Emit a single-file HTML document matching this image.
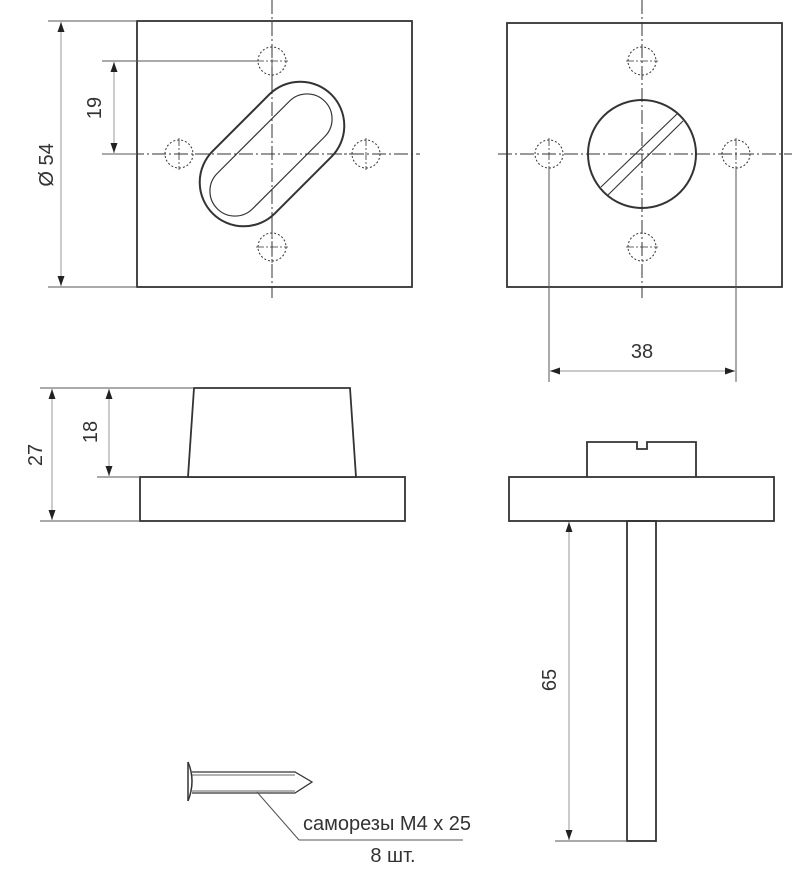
<!DOCTYPE html>
<html><head><meta charset="utf-8"><style>
html,body{margin:0;padding:0;background:#fff;}
svg{display:block;}
text{font-family:"Liberation Sans","DejaVu Sans",sans-serif;font-size:20px;fill:#333;}
</style></head><body>
<svg width="801" height="872" viewBox="0 0 801 872" xmlns="http://www.w3.org/2000/svg">
<defs>
<marker id="a" viewBox="0 0 10 10" refX="10" refY="5" markerWidth="10" markerHeight="10" markerUnits="userSpaceOnUse" orient="auto-start-reverse"><path d="M0,1.5 L10,5 L0,8.5 Z" fill="#222"/></marker>
</defs>
<g fill="none" stroke="#333">
<rect x="137" y="21" width="275" height="266" stroke-width="1.8"/>
<g stroke-width="1" stroke-dasharray="14,3,2,3">
<line x1="272" y1="0" x2="272" y2="298"/>
<line x1="130" y1="154" x2="420" y2="154"/>
</g>
<g stroke-width="1" stroke-dasharray="2,2">
<circle cx="272" cy="61" r="14"/><circle cx="272" cy="247" r="14"/>
<circle cx="179" cy="154" r="14"/><circle cx="366" cy="154" r="14"/>
</g>
<g stroke-width="0.8" stroke-dasharray="8,2,2,2">
<line x1="256" y1="61" x2="288" y2="61"/><line x1="272" y1="45" x2="272" y2="77"/>
<line x1="256" y1="247" x2="288" y2="247"/><line x1="272" y1="231" x2="272" y2="263"/>
<line x1="179" y1="138" x2="179" y2="170"/><line x1="366" y1="138" x2="366" y2="170"/>
</g>
<g transform="translate(272,154) rotate(-45)" fill="#fff">
<rect x="-84" y="-44" width="168" height="88" rx="44" stroke-width="2"/>
</g>
<g transform="translate(271,155) rotate(-45)">
<rect x="-76" y="-25" width="152" height="50" rx="25" stroke-width="1.2"/>
</g>
<g stroke-width="1" stroke-dasharray="14,3,2,3">
<line x1="272" y1="80" x2="272" y2="230"/>
<line x1="195" y1="154" x2="350" y2="154"/>
</g>
<g stroke="#555" stroke-width="1">
<line x1="48" y1="21" x2="137" y2="21"/>
<line x1="48" y1="287" x2="137" y2="287"/>
<line x1="102" y1="61" x2="258" y2="61"/>
<line x1="102" y1="154" x2="137" y2="154"/>
</g>
<g stroke="#aaa" stroke-width="1.2">
<line x1="61" y1="22" x2="61" y2="286" marker-start="url(#a)" marker-end="url(#a)"/>
<line x1="114" y1="62" x2="114" y2="153" marker-start="url(#a)" marker-end="url(#a)"/>
</g>
<rect x="507" y="23" width="275" height="264" stroke-width="1.8"/>
<g stroke-width="1" stroke-dasharray="14,3,2,3">
<line x1="642" y1="0" x2="642" y2="298"/>
<line x1="498" y1="154" x2="792" y2="154"/>
</g>
<g stroke-width="1" stroke-dasharray="2,2">
<circle cx="642" cy="61" r="14"/><circle cx="642" cy="247" r="14"/>
<circle cx="549" cy="154" r="14"/><circle cx="736" cy="154" r="14"/>
</g>
<g stroke-width="0.8" stroke-dasharray="8,2,2,2">
<line x1="626" y1="61" x2="658" y2="61"/><line x1="626" y1="247" x2="658" y2="247"/>
<line x1="549" y1="138" x2="549" y2="170"/><line x1="736" y1="138" x2="736" y2="170"/>
</g>
<circle cx="642" cy="154" r="54" stroke-width="2"/>
<line x1="601" y1="187" x2="677" y2="114" stroke-width="1.1"/>
<line x1="608" y1="195" x2="683" y2="121" stroke-width="1.1"/>
<g stroke="#555" stroke-width="1">
<line x1="549" y1="168" x2="549" y2="382"/>
<line x1="736" y1="168" x2="736" y2="382"/>
</g>
<line x1="550" y1="371" x2="735" y2="371" stroke="#aaa" stroke-width="1.2" marker-start="url(#a)" marker-end="url(#a)"/>
<rect x="140" y="477" width="265" height="44" stroke-width="1.8"/>
<path d="M194,388 L350,388 L356,477 L188,477 Z" stroke-width="1.8" fill="#fff"/>
<g stroke="#555" stroke-width="1">
<line x1="40" y1="388" x2="194" y2="388"/>
<line x1="40" y1="521" x2="140" y2="521"/>
<line x1="97" y1="477" x2="140" y2="477"/>
</g>
<g stroke="#aaa" stroke-width="1.2">
<line x1="52" y1="389" x2="52" y2="520" marker-start="url(#a)" marker-end="url(#a)"/>
<line x1="109" y1="389" x2="109" y2="476" marker-start="url(#a)" marker-end="url(#a)"/>
</g>
<rect x="509" y="477" width="265" height="44" stroke-width="1.8"/>
<path d="M587,477 L587,442 L637,442 L637,449 L647,449 L647,442 L696,442 L696,477" stroke-width="1.8"/>
<rect x="627" y="521" width="29" height="320" stroke-width="1.8"/>
<line x1="555" y1="841" x2="627" y2="841" stroke="#555" stroke-width="1"/>
<line x1="569" y1="522" x2="569" y2="840" stroke="#aaa" stroke-width="1.2" marker-start="url(#a)" marker-end="url(#a)"/>
<path d="M188,762 Q196,781 188,801" stroke-width="1.5"/>
<line x1="188" y1="762" x2="188" y2="801" stroke-width="1.5"/>
<path d="M192,772 L295,772 L312,782 L295,793 L192,793" stroke-width="1.3"/>
<line x1="192" y1="775" x2="295" y2="775" stroke-width="0.8"/>
<line x1="192" y1="791" x2="295" y2="791" stroke-width="0.8"/>
<line x1="257" y1="792" x2="299" y2="840" stroke="#555" stroke-width="1"/>
<line x1="299" y1="840" x2="463" y2="840" stroke="#555" stroke-width="1"/>
</g>
<text x="0" y="0" transform="translate(53,165) rotate(-90)" text-anchor="middle">Ø 54</text>
<text x="0" y="0" transform="translate(101,108) rotate(-90)" text-anchor="middle">19</text>
<text x="642" y="358" text-anchor="middle">38</text>
<text x="0" y="0" transform="translate(42,455) rotate(-90)" text-anchor="middle">27</text>
<text x="0" y="0" transform="translate(97,432) rotate(-90)" text-anchor="middle">18</text>
<text x="0" y="0" transform="translate(556,680) rotate(-90)" text-anchor="middle">65</text>
<text x="303" y="830">саморезы M4 x 25</text>
<text x="393" y="862" text-anchor="middle">8 шт.</text>
</svg>
</body></html>
